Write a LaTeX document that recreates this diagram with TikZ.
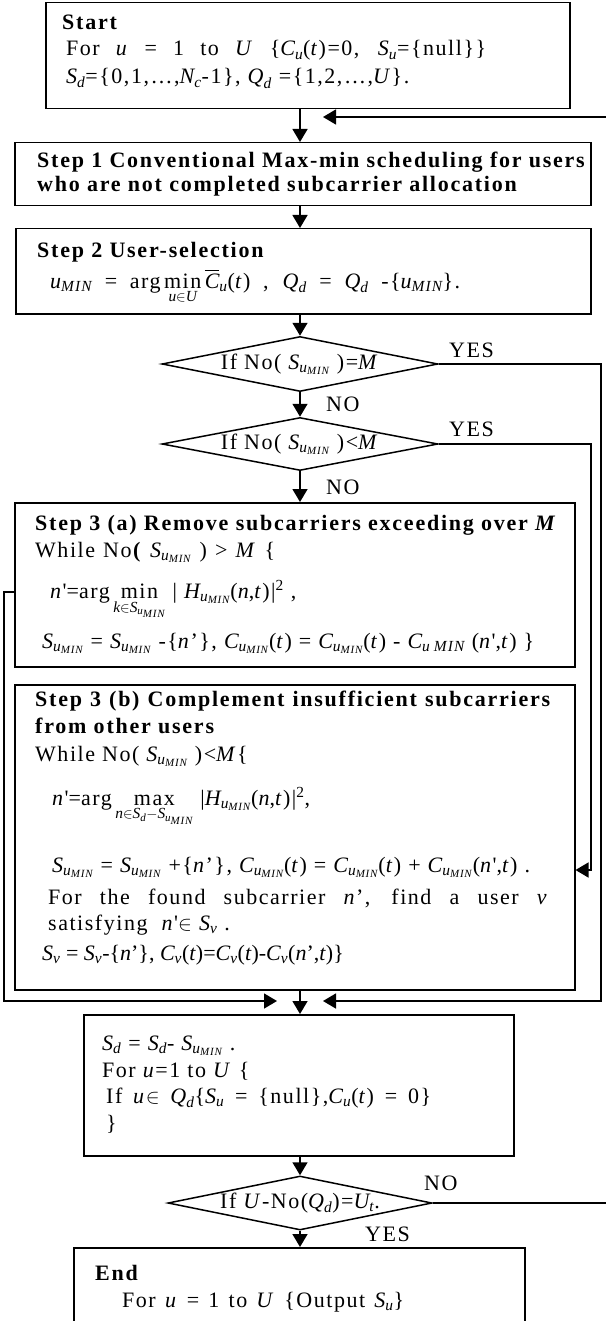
\documentclass[tikz,border=0pt]{standalone}
\usepackage{amsmath}
\usepackage{fontspec}
\setmainfont{Liberation Serif}[LetterSpace=7]
\newfontfamily\hdfont{Liberation Serif}[LetterSpace=8]
\usetikzlibrary{arrows.meta,shapes.geometric}

\newcommand{\iv}[1]{\textit{#1}}
\newcommand{\Smin}{$\iv{S}_{\iv{u}_{\iv{MIN}}}$}
\newcommand{\Cmin}{$\iv{C}_{\iv{u}_{\iv{MIN}}}$}
\newcommand{\Hmin}{$\iv{H}_{\iv{u}_{\iv{MIN}}}$}

\tikzset{
  box/.style={draw,line width=1.5pt,rectangle,anchor=north west,inner sep=0pt},
  dia/.style={draw,line width=1.5pt,diamond,inner sep=0pt},
  txt/.style={anchor=base west,inner sep=0pt,font=\fontsize{22}{26}\selectfont},
  hd/.style={anchor=base west,inner sep=0pt,font=\fontsize{22}{26}\selectfont\hdfont\bfseries},
  dtxt/.style={inner sep=0pt,font=\fontsize{22}{26}\selectfont},
  arr/.style={line width=1.5pt,-{Triangle[length=13pt,width=15pt]}},
}

\begin{document}
\begin{tikzpicture}[x=1pt,y=-1pt]
\path[use as bounding box] (0,0) rectangle (605,1321);
\coordinate (axis) at (300,0);
% boxes
\node[box,minimum width=524pt,minimum height=106pt] (start) at (45,2) {};
\node[box,minimum width=576pt,minimum height=63pt] (step1) at (14,142) {};
\node[box,minimum width=575pt,minimum height=85pt] (step2) at (15,228) {};
\node[dia,minimum width=276pt,minimum height=55pt] (d1) at (300,364) {};
\node[dia,minimum width=276pt,minimum height=53pt] (d2) at (300,444) {};
\node[box,minimum width=560pt,minimum height=164pt] (s3a) at (14,502) {};
\node[box,minimum width=560pt,minimum height=305pt] (s3b) at (14,684) {};
\node[box,minimum width=430pt,minimum height=141pt] (sd) at (83,1014) {};
\node[dia,minimum width=264pt,minimum height=54pt] (d3) at (300,1203) {};
\node[box,minimum width=451pt,minimum height=90pt] (end) at (73,1247) {};
% start
\node[hd] (st0) at (62,30) {Start};
\node[txt] (st1) at (66,56) {\makebox[420pt][s]{For \iv{u} = 1 to \iv{U} \{$\iv{C}_{\iv{u}}$(\iv{t})=0, $\iv{S}_{\iv{u}}$=\{null\}\}}};
\node[txt] (st2) at (66,84) {$\iv{S}_{\iv{d}}$=\{0,1,…,$\iv{N}_{\iv{c}}$-1\}, $\iv{Q}_{\iv{d}}$ =\{1,2,…,\iv{U}\}.};
% step 1 and 2
\node[hd] (s1a) at (37,168) {Step 1 Conventional Max-min scheduling for users};
\node[hd] (s1b) at (37,192) {who are not completed subcarrier allocation};
\node[hd] (s2a) at (37,258) {Step 2 User-selection};
\node[txt] (s2b) at (50,288) {\makebox[410pt][s]{$\iv{u}_{\iv{MIN}}$ = $\textrm{arg}\mathop{\textrm{min}}\limits_{\iv{u}\in\iv{U}}\overline{\iv{C}}_{\iv{u}}$(\iv{t}) , $\iv{Q}_{\iv{d}}$ = $\iv{Q}_{\iv{d}}$ -\{$\iv{u}_{\iv{MIN}}$\}.}};
% decisions
\node[dtxt] (d1t) at (d1) {If No( \Smin{} )=\iv{M}};
\node[dtxt] (d2t) at (d2) {If No( \Smin{} )<\iv{M}};
\node[txt] (yes1) at (449,357) {YES};
\node[txt] (no1) at (326,411) {NO};
\node[txt] (yes2) at (449,436) {YES};
\node[txt] (no2) at (326,494) {NO};
% step 3 (a)
\node[hd] (s3a1) at (35,530) {Step 3 (a) Remove subcarriers exceeding over \iv{M}};
\node[txt] (s3a2) at (35,557) {\makebox[240pt][s]{While No\textbf{(} \Smin{} ) > \iv{M} \{}};
\node[txt] (s3a3) at (50,598) {\iv{n}\textquotesingle=$\textrm{arg}\mathop{\textrm{min}}\limits_{\iv{k}\in\iv{S}_{\iv{u}_{\iv{MIN}}}}$ | \Hmin(\iv{n},\iv{t})|\textsuperscript{2} ,};
\node[txt] (s3a4) at (42,648) {\Smin{} = \Smin{} -\{\iv{n}’\}, \Cmin(\iv{t}) = \Cmin(\iv{t}) - $\iv{C}_{\iv{u}\;\iv{MIN}}$ (\iv{n}\textquotesingle,\iv{t}) \}};
% step 3 (b)
\node[hd] (s3b1) at (35,706) {\makebox[515pt][s]{Step 3 (b) Complement insufficient subcarriers}};
\node[hd] (s3b2) at (35,733) {from other users};
\node[txt] (s3b3) at (35,761) {While No( \Smin{} )<\iv{M}\{};
\node[txt] (s3b4) at (52,805) {\iv{n}\textquotesingle=$\textrm{arg}\mathop{\textrm{max}}\limits_{\iv{n}\in\iv{S}_{\iv{d}}-\iv{S}_{\iv{u}_{\iv{MIN}}}}$ |\Hmin(\iv{n},\iv{t})|\textsuperscript{2},};
\node[txt] (s3b5) at (52,872) {\Smin{} = \Smin{} +\{\iv{n}’\}, \Cmin(\iv{t}) = \Cmin(\iv{t}) + \Cmin(\iv{n}\textquotesingle,\iv{t}) .};
\node[txt] (s3b6) at (48,904) {\makebox[500pt][s]{For the found subcarrier \iv{n}’, find a user \iv{v}}};
\node[txt] (s3b7) at (48,930) {satisfying~~\iv{n}\textquotesingle$\in$ $\iv{S}_{\iv{v}}$ .};
\node[txt,font=\fontsize{22}{26}\selectfont\addfontfeature{LetterSpace=0}] (s3b8) at (42,960) {$\iv{S}_{\iv{v}}$ = $\iv{S}_{\iv{v}}$-\{\iv{n}’\}, $\iv{C}_{\iv{v}}$(\iv{t})=$\iv{C}_{\iv{v}}$(\iv{t})-$\iv{C}_{\iv{v}}$(\iv{n}’,\iv{t})\}};
% update box
\node[txt] (sd1) at (102,1050) {$\iv{S}_{\iv{d}}$ = $\iv{S}_{\iv{d}}$- \Smin{} .};
\node[txt] (sd2) at (102,1077) {For \iv{u}=1 to \iv{U} \{};
\node[txt] (sd3) at (106,1103) {\makebox[325pt][s]{If \iv{u}$\in$ $\iv{Q}_{\iv{d}}$\{$\iv{S}_{\iv{u}}$ = \{null\},$\iv{C}_{\iv{u}}$(\iv{t}) = 0\}}};
\node[txt] (sd4) at (106,1130) {\}};
\node[dtxt] (d3t) at (d3) {If \iv{U}-No($\iv{Q}_{\iv{d}}$)=$\iv{U}_{\iv{t}}$.};
\node[txt] (no3) at (424,1190) {NO};
\node[txt] (yes3) at (365,1241) {YES};
% end
\node[hd] (en1) at (95,1280) {End};
\node[txt] (en2) at (122,1307) {\makebox[282pt][s]{For \iv{u} = 1 to \iv{U} \{Output $\iv{S}_{\iv{u}}$\}}};
% free ends
\coordinate (topR) at (323,117);
\coordinate (mL) at (277,1001);
\coordinate (mR) at (323,1001);
\coordinate (inB) at (0,870);
\coordinate (loopA) at (0,592);
% main flow
\draw[arr] (start.south -| axis) -- (step1.north -| axis);
\draw[arr] (step1.south -| axis) -- (step2.north -| axis);
\draw[arr] (step2.south -| axis) -- (d1.north);
\draw[arr] (d1.south) -- (d2.north);
\draw[arr] (d2.south) -- (s3a.north -| axis);
\draw[arr] (s3b.south -| axis) -- (sd.north -| axis);
\draw[arr] (sd.south -| axis) -- (d3.north);
\draw[arr] (d3.south) -- (end.north -| axis);
% side branches
\draw[arr] (d1.east) -- ++(162,0) |- (mR);
\draw[arr] (d2.east) -- ++(152,0) |- (s3b.east |- inB);
\draw[arr] (s3a.west |- loopA) -- ++(-10,0) |- (mL);
\draw[arr] (d3.east) -- ++(200,0) |- (topR);
\end{tikzpicture}
\end{document}
